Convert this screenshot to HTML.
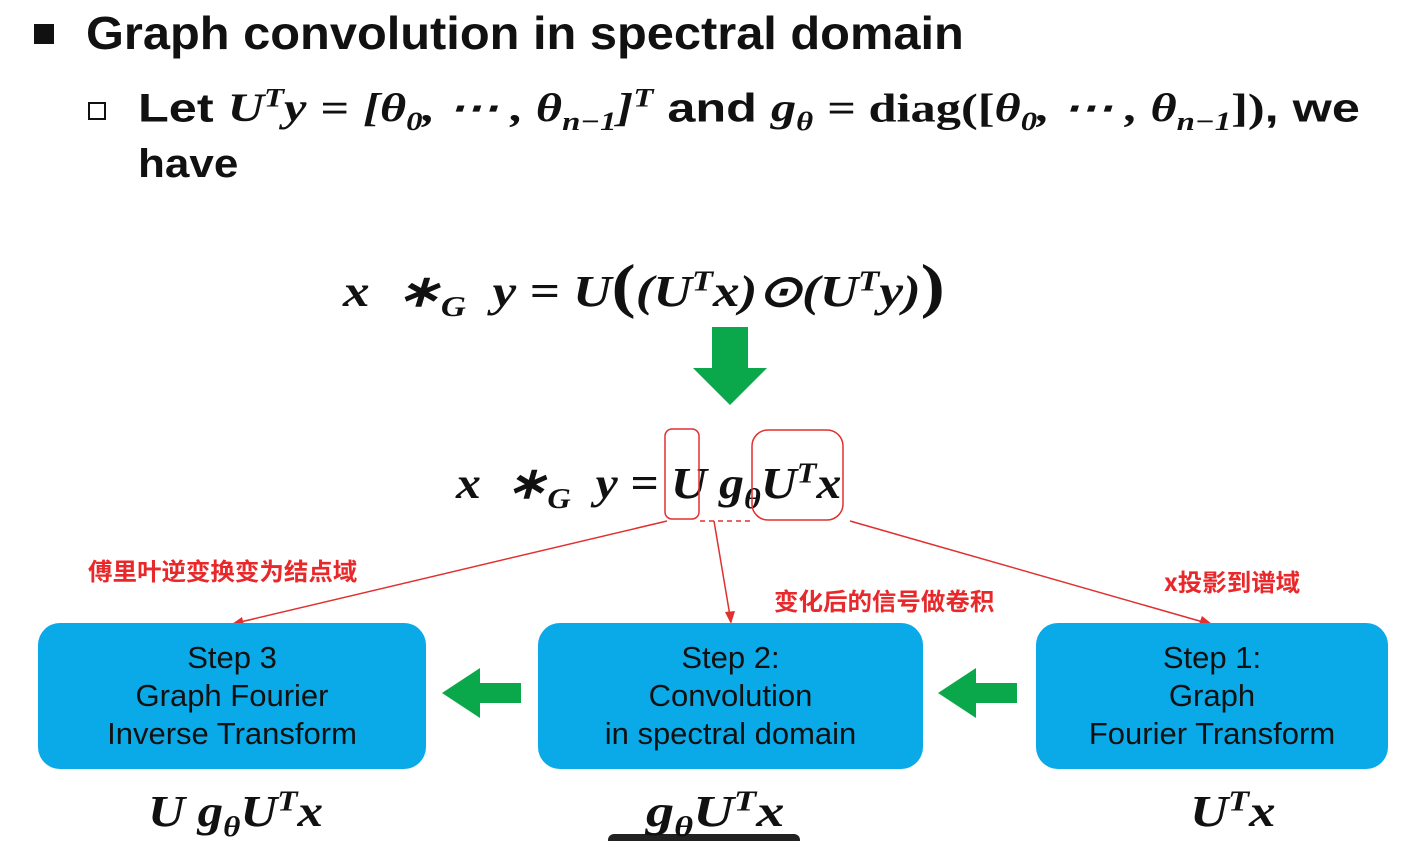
<!DOCTYPE html>
<html><head><meta charset="utf-8"><style>
body{margin:0;width:1404px;height:841px;background:#fff;overflow:hidden;position:relative;font-family:"Liberation Sans","Noto Sans CJK SC",sans-serif}
.a{position:absolute;white-space:nowrap;transform-origin:0 0}
.m{font-family:"Liberation Serif",serif;font-weight:bold;font-style:italic}
.box{position:absolute;background:#0aa9e8;border-radius:22px;color:#111;font-size:31px;text-align:center;line-height:38px;display:flex;flex-direction:column;justify-content:center}
.cn{color:#e8282a;font-weight:bold;font-size:24px;font-family:"Noto Sans CJK SC",sans-serif}
sup{font-size:0.65em}
sub{font-size:0.65em}
</style></head><body>
<div class="a" style="left:34px;top:24px;width:20px;height:20px;background:#111"></div>
<div class="a" style="left:86px;top:6px;font-size:46px;font-weight:bold;color:#111;transform:scaleX(1.06)">Graph convolution in spectral domain</div>
<div class="a" style="left:88px;top:102px;width:14px;height:14px;border:2px solid #111"></div>
<div class="a" style="left:138px;top:84px;font-size:40px;font-weight:bold;color:#111;transform:scaleX(1.26)">Let <span class="m">U<sup>T</sup>y</span> <span class="m" style="font-style:normal">=</span> <span class="m">[θ<sub>0</sub>, ⋯ , θ<sub>n−1</sub>]<sup>T</sup></span> and <span class="m">g<sub>θ</sub></span> <span class="m" style="font-style:normal">= diag([</span><span class="m">θ<sub>0</sub>, ⋯ , θ<sub>n−1</sub></span><span class="m" style="font-style:normal">])</span>, we</div>
<div class="a" style="left:138px;top:142px;font-size:40px;font-weight:bold;color:#111;transform:scaleX(1.1)">have</div>
<div class="a m" style="left:343px;top:252px;font-size:44px;color:#111;transform:scaleX(1.21)">x &nbsp;∗<sub>G</sub>&nbsp; y = U<span style="font-size:60px;font-style:normal">(</span>(U<sup>T</sup>x)⊙(U<sup>T</sup>y)<span style="font-size:60px;font-style:normal">)</span></div>
<div class="a m" style="left:456px;top:458px;font-size:44px;color:#111;transform:scaleX(1.13)">x &nbsp;∗<sub>G</sub>&nbsp; y = U g<sub>θ</sub>U<sup>T</sup>x</div>
<svg class="a" style="left:0;top:0" width="1404" height="841">
<polygon points="712,327 748,327 748,368 767,368 730,405 693,368 712,368" fill="#0aa84a"/>
<rect x="665" y="429" width="34" height="90" rx="7" fill="none" stroke="#e03030" stroke-width="1.5"/>
<rect x="752" y="430" width="91" height="90" rx="16" fill="none" stroke="#e03030" stroke-width="1.5"/>
<line x1="700" y1="521" x2="752" y2="521" stroke="#e03030" stroke-width="1.5" stroke-dasharray="5,4"/>
<line x1="667" y1="521" x2="232" y2="624" stroke="#e03030" stroke-width="1.5"/>
<polygon points="232,624 242,617 244,625" fill="#e03030"/>
<line x1="714" y1="521" x2="730" y2="616" stroke="#e03030" stroke-width="1.5"/>
<polygon points="731,624 725,612 735,611" fill="#e03030"/>
<line x1="850" y1="521" x2="1210" y2="624" stroke="#e03030" stroke-width="1.5"/>
<polygon points="1212,624 1199,624 1202,616" fill="#e03030"/>
<polygon points="442,693 480,668 480,683 521,683 521,703 480,703 480,718" fill="#0aa84a"/>
<polygon points="938,693 976,668 976,683 1017,683 1017,703 976,703 976,718" fill="#0aa84a"/>
<rect x="608" y="834" width="192" height="12" rx="6" fill="#222"/>
</svg>
<div class="a cn" style="left:88px;top:552px;transform:scaleX(1.02)">傅里叶逆变换变为结点域</div>
<div class="a cn" style="left:774px;top:582px;transform:scaleX(1.02)">变化后的信号做卷积</div>
<div class="a cn" style="left:1164px;top:563px;transform:scaleX(1.02)">x投影到谱域</div>
<div class="box" style="left:38px;top:623px;width:388px;height:146px"><div>Step 3</div><div>Graph Fourier</div><div>Inverse Transform</div></div>
<div class="box" style="left:538px;top:623px;width:385px;height:146px"><div>Step 2:</div><div>Convolution</div><div>in spectral domain</div></div>
<div class="box" style="left:1036px;top:623px;width:352px;height:146px"><div>Step 1:</div><div>Graph</div><div>Fourier Transform</div></div>
<div class="a m" style="left:148px;top:786px;font-size:44px;color:#111;transform:scaleX(1.16)">U g<sub>θ</sub>U<sup>T</sup>x</div>
<div class="a m" style="left:646px;top:786px;font-size:44px;color:#111;transform:scaleX(1.28)">g<sub>θ</sub>U<sup>T</sup>x</div>
<div class="a m" style="left:1190px;top:786px;font-size:44px;color:#111;transform:scaleX(1.2)">U<sup>T</sup>x</div>
</body></html>
